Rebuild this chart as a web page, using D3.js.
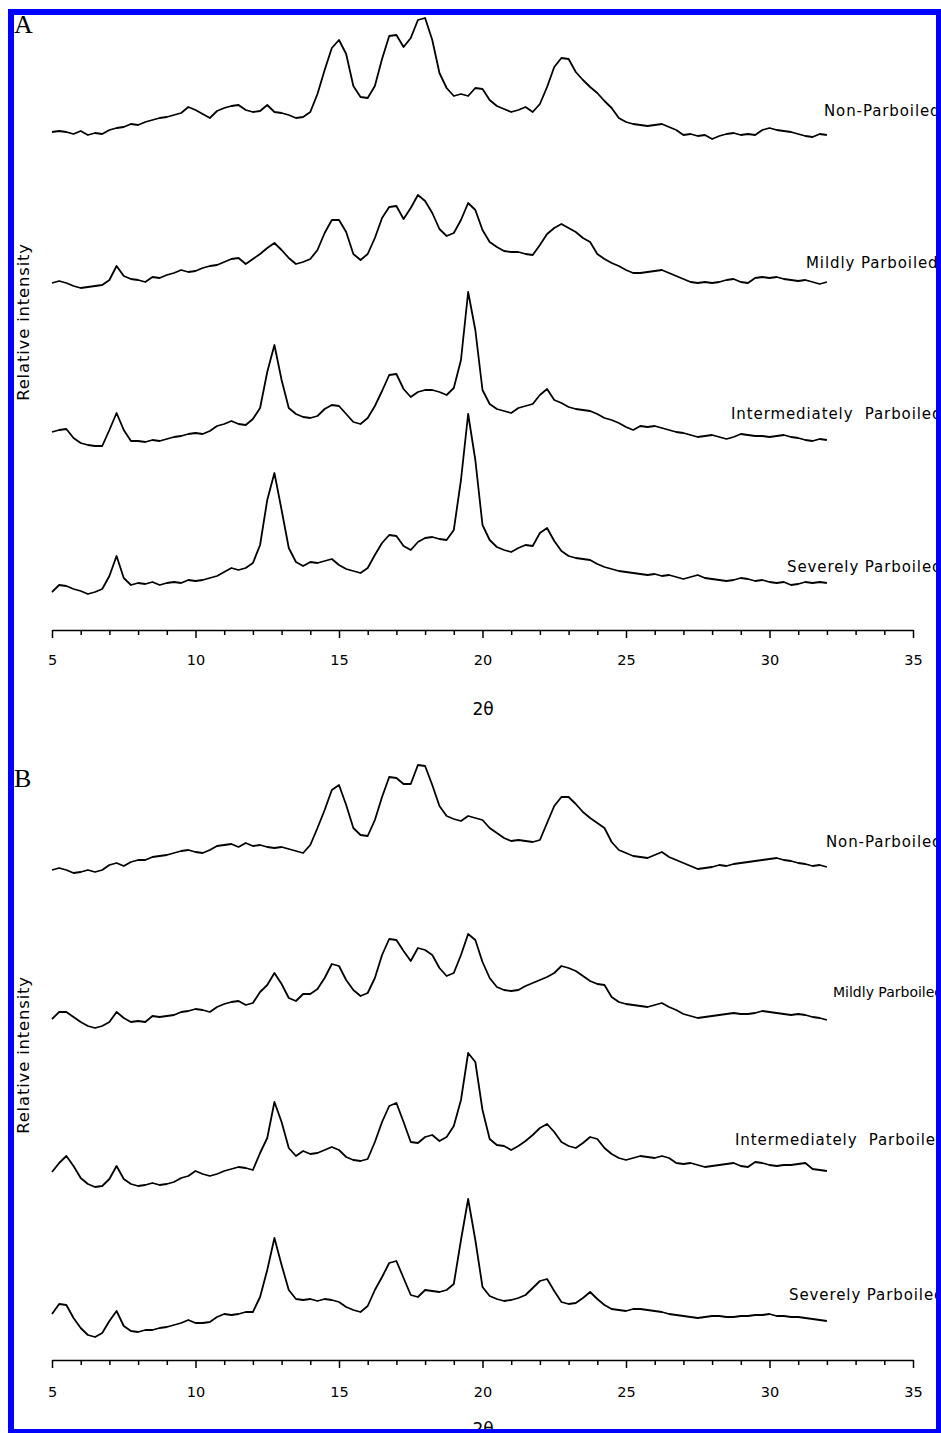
<!DOCTYPE html>
<html>
<head>
<meta charset="utf-8">
<script src="https://cdn.jsdelivr.net/npm/d3@7/dist/d3.min.js"></script>
<style>
  body { margin: 0; background: #fff; }
  svg { display: block; }
  .kreska { fill: none; stroke: #000; stroke-width: 1.8; stroke-linejoin: round; }
  .xAxis path, .xAxis line { stroke: #000; stroke-width: 1.5; }
  .xAxis text { font-family: "DejaVu Sans", sans-serif; font-size: 14.5px; fill: #000; }
  .opis { font-family: "DejaVu Sans", sans-serif; font-size: 15px; letter-spacing: 0.9px; white-space: pre; fill: #000; }
  .tytul { font-family: "DejaVu Sans", sans-serif; font-size: 17px; fill: #000; }
  .ytytul { font-family: "DejaVu Sans", sans-serif; font-size: 16.5px; letter-spacing: 0.8px; fill: #000; }
  .litera { font-family: "Liberation Serif", serif; font-size: 26px; fill: #000; }
</style>
</head>
<body>
<div id="rysxrd"></div>
<script>
// 2-theta grid of the scans, 5 .. 32 deg every 0.25 deg
var twoTheta = d3.range(0, 109).map(function (i) { return 5 + i * 0.25 });

var sampleNames = ["Non-Parboiled", "Mildly Parboiled", "Intermediately  Parboiled", "Severely Parboiled"];
var majorTicks = [5, 10, 15, 20, 25, 30, 35];
var axisTitle = "2\u03b8";
var yTitle = "Relative intensity";

// panel A, relative intensity (a.u.) per 0.25 deg step
var aNon = [8,9,8,6, 9,5,7,6, 10,12,13,16, 15,18,20,22, 23,25,27,33, 30,26,22,29, 32,34,35,30,
  28,29,35,28, 27,25,22,23, 28,46,70,92, 100,86,54,43, 42,54,81,104, 105,93,102,120, 122,100,67,52,
  44,46,44,52, 51,40,34,31, 28,30,33,28, 36,53,73,82, 81,68,60,53, 47,39,32,22, 18,16,15,14,
  15,16,13,10, 5,6,4,5, 1,4,6,7, 5,6,5,10, 12,10,9,8, 6,4,3,6, 5];
var aMild = [7,9,7,4, 2,3,4,5, 10,24,14,11, 10,8,13,12, 15,17,20,18, 19,22,24,25, 28,31,32,26,
  31,36,42,47, 40,32,26,28, 31,40,57,70, 70,58,36,30, 36,52,72,83, 84,71,82,95, 89,77,61,54,
  57,70,87,80, 60,48,43,39, 38,38,36,35, 45,56,62,66, 62,58,52,48, 36,31,27,24, 20,17,17,18,
  19,20,17,14, 11,8,7,8, 7,8,10,11, 8,7,12,13, 12,13,11,10, 9,10,8,6, 8];
var aInt = [18,20,21,12, 7,5,4,4, 20,37,20,9, 9,8,10,9, 11,13,14,16, 17,16,19,24, 26,29,26,25,
  31,42,78,105, 70,42,36,33, 32,34,41,45, 44,36,28,26, 32,44,59,75, 76,61,53,58, 60,60,58,55,
  62,90,158,120, 60,46,41,39, 37,42,44,46, 55,61,50,47, 43,41,40,39, 36,32,30,27, 23,20,24,23,
  24,22,20,18, 17,15,13,14, 15,13,11,13, 16,15,14,14, 13,14,15,13, 12,10,9,11, 10];
var aSev = [8,15,14,11, 9,6,8,11, 24,44,22,15, 17,16,18,15, 17,18,17,20, 19,20,22,24, 28,32,30,32,
  37,55,100,127, 90,52,38,34, 38,37,39,41, 35,31,29,27, 32,45,57,65, 64,54,50,58, 62,63,61,60,
  70,120,186,140, 75,60,53,50, 48,52,55,54, 67,72,59,49, 44,42,41,40, 36,33,31,29, 28,27,26,25,
  26,24,25,23, 21,23,25,22, 21,20,19,20, 22,21,19,20, 18,17,18,15, 16,18,17,18, 17];

// panel B
var bNon = [8,10,8,5, 6,8,6,8, 13,15,12,16, 18,18,21,22, 23,25,27,28, 26,25,28,32, 33,34,31,35,
  32,33,31,30, 31,29,27,25, 33,50,68,88, 93,73,50,43, 42,58,81,101, 100,94,94,113, 112,93,72,62,
  59,57,62,60, 58,50,45,40, 37,38,37,36, 38,55,72,81, 81,74,66,60, 55,50,36,28, 25,22,21,20,
  23,26,21,18, 15,12,9,10, 11,13,12,14, 15,16,17,18, 19,20,18,17, 15,14,12,13, 11];
var bMild = [9,16,16,11, 6,2,0,2, 6,16,10,6, 7,6,12,11, 12,13,16,17, 19,18,16,21, 24,26,27,23,
  25,36,43,55, 44,30,27,34, 34,39,50,64, 62,48,38,32, 35,50,73,89, 88,77,67,80, 78,73,60,52,
  55,73,94,88, 66,50,41,38, 37,38,42,45, 48,51,55,62, 60,57,52,47, 44,43,31,26, 24,23,22,21,
  23,25,21,18, 14,12,10,11, 12,13,14,15, 14,14,15,17, 16,15,14,13, 14,13,11,10, 8];
var bInt = [18,27,34,24, 12,6,3,4, 11,24,11,6, 4,5,7,5, 6,8,12,14, 19,16,14,16, 19,21,23,22,
  20,37,52,88, 68,42,34,39, 36,37,40,43, 40,33,30,29, 31,48,68,84, 87,68,48,47, 53,55,49,53,
  64,90,137,128, 80,51,45,44, 40,44,49,55, 62,66,58,48, 44,42,47,53, 51,42,36,32, 30,32,34,33,
  32,34,32,27, 26,27,25,23, 24,25,26,27, 24,23,28,27, 25,24,25,25, 26,27,21,20, 19];
var bSev = [28,38,37,24, 14,7,5,9, 21,31,16,11, 10,12,12,14, 15,17,19,22, 19,19,20,25, 28,27,28,30,
  30,45,72,104, 77,52,43,42, 43,41,43,42, 40,35,32,30, 36,52,65,79, 81,64,47,45, 52,51,50,52,
  58,102,143,102, 55,46,43,41, 42,44,47,54, 61,63,51,40, 38,39,44,50, 43,37,33,32, 31,33,33,32,
  31,30,28,27, 26,25,24,25, 26,26,25,25, 26,26,27,27, 28,26,26,25, 25,24,23,22, 21];

// vertical offsets of the stacked scans (a.u.)
var offsetsA = [470, 320, 160, 10];
var offsetsB = [472, 322, 160, 8];


var width = 941, height = 1433;

var svg = d3.select('#rysxrd')
  .append("svg")
  .attr("width", width)
  .attr("height", height)
  .style('background', "white");

var xscale = d3.scaleLinear()
  .domain([5, 35])
  .range([52, 913]);


function create_panel(series, offsets, yscale, lay)
{
  var g = svg.append("g");

  var line = d3.line()
    .x(function (d, i) { return xscale(twoTheta[i]) })
    .y(function (d) { return d });

  series.forEach(function (s, k) {
    g.append("path")
      .datum(s.map(function (v) { return yscale(offsets[k] + v) }))
      .attr("class", "kreska")
      .attr("d", line);
  });

  // minor ticks every 1 deg
  g.append("g")
    .attr("class", "xAxis")
    .attr("transform", "translate(0," + lay.axisY + ")")
    .call(d3.axisBottom(xscale)
      .tickValues(d3.range(5, 36).filter(function (t) { return t % 5 != 0 }))
      .tickSize(5).tickFormat(""))
    .select(".domain").remove();

  g.append("g")
    .attr("class", "xAxis")
    .attr("transform", "translate(0," + lay.axisY + ")")
    .call(d3.axisBottom(xscale)
      .tickValues(majorTicks)
      .tickSize(8).tickSizeOuter(0)
      .tickPadding(lay.tickPad));

  g.append("text")
    .attr("class", "tytul")
    .attr("x", 483)
    .attr("y", lay.titleY)
    .attr("text-anchor", "middle")
    .text(axisTitle);

  g.append("text")
    .attr("class", "ytytul")
    .attr("transform", "translate(29," + lay.ylabY + ")rotate(-90)")
    .attr("text-anchor", "middle")
    .text(yTitle);

  g.append("text")
    .attr("class", "litera")
    .attr("x", 14)
    .attr("y", lay.letterY)
    .text(lay.letter);

  g.selectAll("text.nazwa")
    .data(sampleNames)
    .enter().append("text")
    .attr("class", "opis nazwa")
    .attr("x", function (d, i) { return lay.labX[i] })
    .attr("y", function (d, i) { return lay.labY[i] })
    .style("font-size", function (d, i) { return lay.labSize[i] + "px" })
    .style("letter-spacing", function (d, i) { return lay.labSpace[i] + "px" })
    .text(function (d) { return d });
}

var yA = d3.scaleLinear().domain([0, 600]).range([610, 10]);
var yB = d3.scaleLinear().domain([0, 600]).range([1350, 750]);

create_panel([aNon, aMild, aInt, aSev], offsetsA, yA, {
  axisY: 630, tickPad: 17, titleY: 715, ylabY: 322, letter: "A", letterY: 33,
  labX: [824, 806, 731, 787], labY: [116, 268, 419, 572],
  labSize: [15, 15, 15, 15], labSpace: [0.9, 0.9, 0.9, 0.9]
});

create_panel([bNon, bMild, bInt, bSev], offsetsB, yB, {
  axisY: 1360, tickPad: 19, titleY: 1435, ylabY: 1055, letter: "B", letterY: 787,
  labX: [826, 833, 735, 789], labY: [847, 997, 1145, 1300],
  labSize: [15, 14, 15, 15], labSpace: [0.9, 0, 0.9, 0.9]
});

// blue frame on top, it clips the labels on the right
svg.append("rect")
  .attr("x", 11).attr("y", 12)
  .attr("width", 928).attr("height", 1420)
  .attr("fill", "none")
  .attr("stroke", "#0000ff")
  .attr("stroke-width", 6);
</script>
</body>
</html>
